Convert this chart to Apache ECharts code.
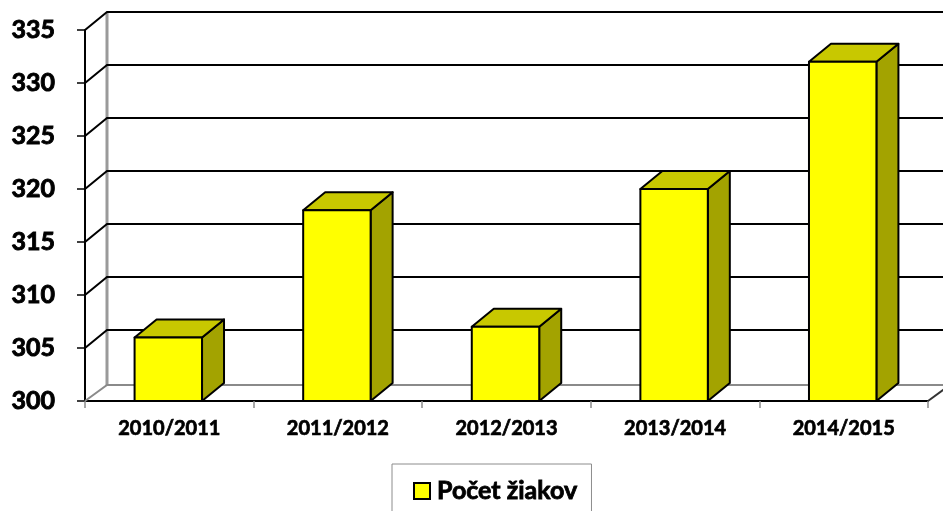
<!DOCTYPE html>
<html>
<head>
<meta charset="utf-8">
<script src="https://cdn.jsdelivr.net/npm/echarts@6/dist/echarts.min.js"></script>
<style>
  html, body { margin: 0; padding: 0; background: #fff; }
  #chart { width: 943px; height: 511px; }
</style>
</head>
<body>
<div id="chart"></div>
<script>
const years = ['2010/2011', '2011/2012', '2012/2013', '2013/2014', '2014/2015'];
const pupils = [306, 318, 307, 320, 332];
const yTicks = [300, 305, 310, 315, 320, 325, 330, 335];
const seriesName = 'Počet žiakov';

// depth of the fake 3d box
const DX = 22;
const DY = 18;
const FLOOR_DY = 16;
const FONT = 'Lato';

function renderWall(params, api) {
  const v = api.value(0);
  const cs = params.coordSys;
  const y = api.coord([0, v])[1];
  const x0 = cs.x;
  const xEnd = cs.x + cs.width;
  const children = [];

  if (v === yTicks[0]) {
    const topBack = api.coord([0, yTicks[yTicks.length - 1]])[1] - DY;
    // back wall left edge
    children.push({
      type: 'line',
      shape: { x1: x0 + DX, y1: topBack, x2: x0 + DX, y2: y - FLOOR_DY },
      style: { stroke: '#9a9a9a', lineWidth: 3 }
    });
    // floor
    children.push({
      type: 'polyline',
      shape: { points: [[x0, y], [x0 + DX, y - FLOOR_DY], [xEnd + 60, y - FLOOR_DY]] },
      style: { fill: null, stroke: '#8a8a8a', lineWidth: 2 }
    });
    children.push({
      type: 'line',
      shape: { x1: xEnd, y1: y, x2: xEnd + DX, y2: y - FLOOR_DY },
      style: { stroke: '#333', lineWidth: 2 }
    });
  } else {
    children.push({
      type: 'polyline',
      shape: { points: [[x0, y], [x0 + DX, y - DY], [xEnd + 60, y - DY]] },
      style: { fill: null, stroke: '#000', lineWidth: 2 }
    });
  }
  return { type: 'group', children: children };
}

function renderBar(params, api) {
  const idx = api.value(0);
  const top = api.coord([idx, api.value(1)]);
  const base = api.coord([idx, yTicks[0]]);
  const w = api.size([1, 0])[0] * 0.4;
  const x0 = top[0] - w / 2 - 1;
  const x1 = x0 + w;
  const yt = top[1];
  const yb = base[1];
  const edge = { stroke: '#000', lineWidth: 2, lineJoin: 'round' };
  return {
    type: 'group',
    children: [
      {
        type: 'polygon',
        shape: { points: [[x1, yt], [x1 + DX, yt - DY], [x1 + DX, yb - DY], [x1, yb]] },
        style: Object.assign({ fill: '#A3A300' }, edge)
      },
      {
        type: 'polygon',
        shape: { points: [[x0, yt], [x1, yt], [x1 + DX, yt - DY], [x0 + DX, yt - DY]] },
        style: Object.assign({ fill: '#C8C800' }, edge)
      },
      {
        type: 'rect',
        shape: { x: x0, y: yt, width: w, height: yb - yt },
        style: Object.assign({ fill: '#FFFF00' }, edge)
      }
    ]
  };
}

const chart = echarts.init(document.getElementById('chart'));
chart.setOption({
  animation: false,
  backgroundColor: '#fff',
  grid: { left: 85, right: 15, top: 30, bottom: 110 },
  xAxis: {
    type: 'category',
    data: years,
    axisLine: { lineStyle: { color: '#000', width: 2 } },
    axisTick: { show: true, length: 7, lineStyle: { color: '#8a8a8a', width: 1.5 } },
    axisLabel: {
      margin: 18,
      fontFamily: FONT,
      fontWeight: 'bold',
      fontSize: 20,
      color: '#000',
      textBorderColor: '#000',
      textBorderWidth: 0.7
    },
    splitLine: { show: false }
  },
  yAxis: {
    type: 'value',
    min: 300,
    max: 335,
    interval: 5,
    axisLine: { show: true, lineStyle: { color: '#000', width: 2 } },
    axisTick: { show: true, length: 8, lineStyle: { color: '#000', width: 1.5 } },
    axisLabel: {
      margin: 30,
      fontFamily: FONT,
      fontWeight: 'bold',
      fontSize: 25,
      color: '#000',
      textBorderColor: '#000',
      textBorderWidth: 0.9
    },
    splitLine: { show: false }
  },
  legend: {
    data: [seriesName],
    left: 392,
    top: 464,
    padding: [14, 14, 40, 21],
    borderColor: '#8c8c8c',
    borderWidth: 1,
    itemWidth: 16,
    itemHeight: 16,
    icon: 'rect',
    itemStyle: { color: '#FFFF00', borderColor: '#000', borderWidth: 2 },
    textStyle: {
      fontFamily: FONT,
      fontWeight: 'bold',
      fontSize: 25,
      color: '#000',
      textBorderColor: '#000',
      textBorderWidth: 0.8,
      padding: [0, 0, 0, 2]
    }
  },
  series: [
    {
      type: 'custom',
      silent: true,
      renderItem: renderWall,
      data: yTicks.map(v => [v]),
      encode: { y: 0 },
      z: 1
    },
    {
      name: seriesName,
      type: 'custom',
      renderItem: renderBar,
      itemStyle: { color: '#FFFF00' },
      data: pupils.map((v, i) => [i, v]),
      encode: { x: 0, y: 1 },
      z: 2
    }
  ]
});
</script>
</body>
</html>
